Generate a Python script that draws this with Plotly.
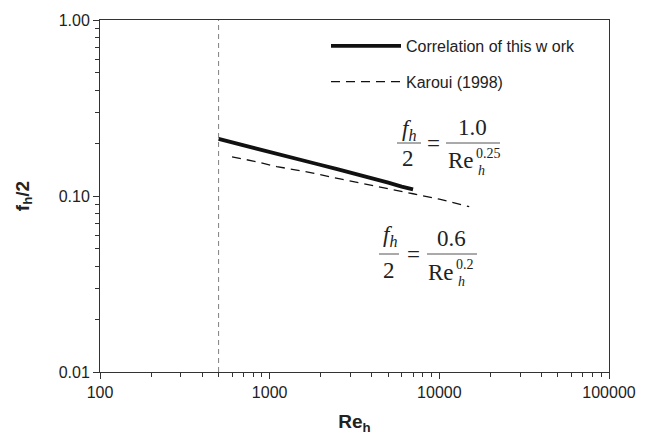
import plotly.graph_objects as go

# ---- data ----
re_corr = [500, 600, 700, 800, 1000, 1200, 1500, 1700, 1900, 2500, 3000, 3500, 4000, 5000, 6000, 7000]
f_corr = [0.211, 0.202, 0.195, 0.188, 0.179, 0.171, 0.162, 0.156, 0.152, 0.142, 0.136, 0.130, 0.127, 0.119, 0.113, 0.109]

re_karoui = [600, 800, 1100, 1800, 2600, 3700, 5000, 7000, 10000, 15000]
f_karoui = [0.167, 0.158, 0.147, 0.135, 0.125, 0.117, 0.110, 0.103, 0.096, 0.087]

re_limit = [500, 500]
f_limit = [0.01, 1.0]

x_tickvals = [100, 1000, 10000, 100000]
x_ticktext = ["100", "1000", "10000", "100000"]
y_tickvals = [0.01, 0.1, 1.0]
y_ticktext = ["0.01", "0.10", "1.00"]
x_minor = [m * 10 ** k for k in (2, 3, 4) for m in range(2, 10)]
y_minor = [m * 10.0 ** k for k in (-2, -1) for m in range(2, 10)]

# ---- layout geometry ----
W, H = 661, 444
ML, MR, MT, MB = 100, 52, 20, 72
PW, PH = W - ML - MR, H - MT - MB


def px(xp):
    return (xp - ML) / PW


def py(yp):
    return (H - MB - yp) / PH


fig = go.Figure()
fig.add_trace(go.Scatter(x=re_limit, y=f_limit, mode="lines", showlegend=False,
                         line=dict(color="#808080", width=1, dash="5px,4px"), hoverinfo="skip"))
fig.add_trace(go.Scatter(x=re_corr, y=f_corr, mode="lines", name="Correlation of this w ork",
                         legendgroup="a", line=dict(color="#111111", width=3.8)))
fig.add_trace(go.Scatter(x=re_karoui, y=f_karoui, mode="lines", name="Karoui (1998)",
                         legendgroup="b", line=dict(color="#111111", width=1.3, dash="9px,6px")))

axis_common = dict(type="log", showline=True, linecolor="#333333", linewidth=1, mirror=True,
                   ticks="outside", ticklen=6, tickcolor="#333333", showgrid=False, zeroline=False,
                   tickfont=dict(family="Liberation Sans", size=16, color="#222222"))

fig.update_xaxes(**axis_common, range=[2, 5], tickvals=x_tickvals, ticktext=x_ticktext,
                 minor=dict(tickmode="array", tickvals=x_minor, ticks="outside", ticklen=4,
                            tickcolor="#333333", showgrid=False),
                 title=dict(text="<b>Re<sub>h</sub></b>", standoff=14,
                            font=dict(family="Liberation Sans", size=19, color="#222222")))
fig.update_yaxes(**axis_common, range=[-2, 0], tickvals=y_tickvals, ticktext=y_ticktext,
                 minor=dict(tickmode="array", tickvals=y_minor, ticks="outside", ticklen=4,
                            tickcolor="#333333", showgrid=False),
                 title=dict(text="<b>f<sub>h</sub>/2</b>", standoff=24,
                            font=dict(family="Liberation Sans", size=19, color="#222222")))

# ---- equations as text ----
serif = "Liberation Serif"
ann = []
shapes = []


def txt(x, y, s, size=23):
    ann.append(dict(x=px(x), y=py(y), xref="paper", yref="paper", text=s, showarrow=False,
                    xanchor="center", yanchor="middle", font=dict(family=serif, size=size, color="#222222")))


def bar(x0, x1, y):
    shapes.append(dict(type="line", xref="paper", yref="paper", x0=px(x0), x1=px(x1), y0=py(y), y1=py(y),
                       line=dict(color="#555555", width=1)))


fh = "<i>f</i><sub><i>h</i></sub>"
# equation 1
txt(409, 130, fh)
bar(397, 421, 143)
txt(408, 158, "2")
txt(433, 143, "=")
txt(472, 128, "1.0")
bar(446, 500, 143)
txt(461, 161, "Re")
txt(488, 153, "0.25", size=14)
txt(481, 170, "<i>h</i>", size=14)
# equation 2
txt(390, 236, fh)
bar(379, 399, 254)
txt(389, 270, "2")
txt(413, 254, "=")
txt(451, 238, "0.6")
bar(427, 477, 254)
txt(441, 272, "Re")
txt(465, 264, "0.2", size=14)
txt(461, 281, "<i>h</i>", size=14)

fig.update_layout(
    width=W, height=H, margin=dict(l=ML, r=MR, t=MT, b=MB),
    paper_bgcolor="white", plot_bgcolor="white",
    annotations=ann, shapes=shapes,
    legend=dict(x=px(326), y=py(29), xanchor="left", yanchor="top", bgcolor="rgba(0,0,0,0)",
                font=dict(family="Liberation Sans", size=16, color="#222222"),
                tracegroupgap=12, itemwidth=70),
)

fig.write_html("out.html")
